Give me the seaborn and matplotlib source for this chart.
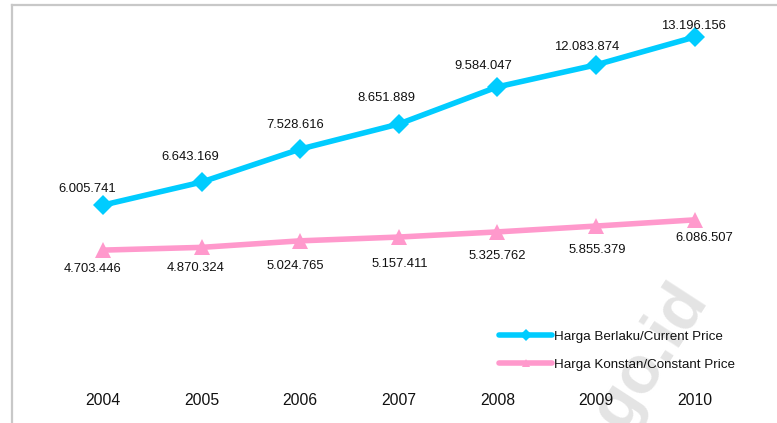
import matplotlib
matplotlib.use('Agg')
import matplotlib.pyplot as plt
import seaborn as sns
import pandas as pd

# --- Data ---
years = [2004, 2005, 2006, 2007, 2008, 2009, 2010]
# values printed on the chart
current_price = [6005741, 6643169, 7528616, 8651889, 9584047, 12083874, 13196156]
constant_price = [4703446, 4870324, 5024765, 5157411, 5325762, 5855379, 6086507]
# heights of the points as drawn in the picture (millions)
current_drawn = [6.01, 6.68, 7.64, 8.37, 9.45, 10.09, 10.90]
constant_drawn = [4.70, 4.78, 4.97, 5.08, 5.23, 5.40, 5.58]
series_names = ['Harga Berlaku/Current Price', 'Harga Konstan/Constant Price']

blue = '#00CCFF'
pink = '#FF99CC'

df = pd.DataFrame({
    'year': years * 2,
    'value': current_drawn + constant_drawn,
    'series': [series_names[0]] * len(years) + [series_names[1]] * len(years),
})

sns.set_style('white')
plt.rcParams['font.family'] = ['Liberation Sans', 'DejaVu Sans']

fig = plt.figure(figsize=(7.77, 4.23), dpi=100)
ax = fig.add_axes([12 / 777, 0, 765 / 777, 418 / 423])

sns.lineplot(data=df, x='year', y='value', hue='series', style='series',
             palette=[blue, pink], markers=['D', '^'], dashes=False,
             linewidth=4.0, markersize=10.5, markeredgewidth=0, ax=ax, zorder=3)
# make triangles a bit bigger
ax.lines[1].set_markersize(12)

ax.set_xlim(2004 - 0.923, 2004 + 6.836)
ax.set_ylim(-0.331, 11.833)
ax.set_xticks([])
ax.set_yticks([])
ax.set_xlabel('')
ax.set_ylabel('')

for side in ['right', 'bottom']:
    ax.spines[side].set_visible(False)
for side in ['left', 'top']:
    ax.spines[side].set_color('#c8c8c8')
    ax.spines[side].set_linewidth(1.6)

# watermark (faint, partly under the legend like the source)
ax.text(0.835, 0.16, 'go.id', transform=ax.transAxes, rotation=57,
        fontsize=48, fontweight='bold', color='#e4e4e4',
        ha='center', va='center', zorder=0)

# data labels (offsets in pixels, relative to the point)
cur_off = [(-16, 16), (-11, 25), (-5, 24), (-12, 26), (-14, 21), (-9, 18), (-1, 11)]
con_off = [(-10, -19), (-6, -21), (-5, -25), (1, -27), (0, -24), (1, -24), (10, -18)]
for i, yr in enumerate(years):
    ax.annotate(f'{current_price[i]:,}'.replace(',', '.'), (yr, current_drawn[i]),
                xytext=cur_off[i], textcoords='offset pixels',
                ha='center', va='center', fontsize=9.4, color='#111111')
    ax.annotate(f'{constant_price[i]:,}'.replace(',', '.'), (yr, constant_drawn[i]),
                xytext=con_off[i], textcoords='offset pixels',
                ha='center', va='center', fontsize=9.4, color='#111111')

# year labels
for yr in years:
    ax.text(yr, (423 - 400) / 418, str(yr), transform=ax.get_xaxis_transform(),
            ha='center', va='center', fontsize=11.3, color='#111111')

handles, labels = ax.get_legend_handles_labels()
leg = ax.legend(handles, labels, loc='center left',
                bbox_to_anchor=(499 / 777, 1 - 350.5 / 423),
                bbox_transform=fig.transFigure, frameon=False,
                fontsize=9.6, handlelength=4.0, handletextpad=0.15,
                labelspacing=1.15, borderpad=0, borderaxespad=0, markerscale=0.6)
for t in leg.get_texts():
    t.set_color('#111111')

fig.savefig('out.png', dpi=100)
